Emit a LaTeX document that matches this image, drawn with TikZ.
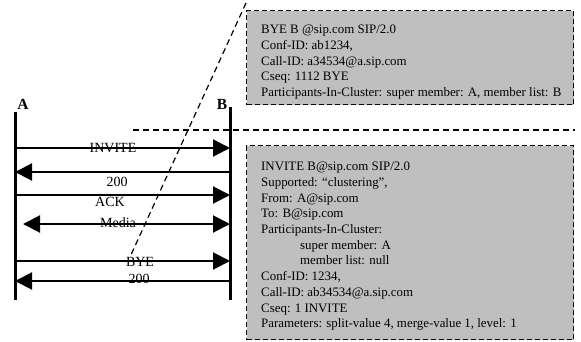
\documentclass[tikz,border=0pt]{standalone}
\usepackage{fontspec}
\setmainfont{Liberation Serif}
\usetikzlibrary{arrows.meta}
\tikzset{
    lifeline/.style={line width=3pt},
    msg/.style={line width=2pt, -{Triangle[length=17pt, width=17pt]}},
    lbl/.style={inner sep=0pt, font=\fontsize{14}{16}\selectfont},
    party/.style={inner sep=0pt, font=\fontsize{15.5}{17}\selectfont\bfseries},
    sepline/.style={line width=1.2pt, dash pattern=on 6pt off 4pt},
    msgbox/.style={draw, fill=black!25, line width=1.4pt, dash pattern=on 5pt off 3pt, anchor=north west, inner sep=0pt},
    msgtext/.style={anchor=north west, align=left, inner sep=0pt, font=\fontsize{12.9}{15.7}\selectfont},
}

\begin{document}
\begin{tikzpicture}[x=1pt, y=-1pt]
    \useasboundingbox (0,0) rectangle (581,341);
    % the two parties
    \node[party] (A) at (23,104) {A};
    \node[party] (B) at (222,104) {B};
    \coordinate (aTop) at (15,112);
    \coordinate (aBot) at (15,300);
    \coordinate (bTop) at (230,107);
    \coordinate (bBot) at (230,300);
    \draw[lifeline] (aTop) -- (aBot);
    \draw[lifeline] (bTop) -- (bBot);

    % message rows
    \foreach \n/\y in {invite/148, okA/172, ack/195, media/224, bye/261, okB/281} {
        \coordinate (a-\n) at (15,\y);
        \coordinate (b-\n) at (230,\y);
    }
    \coordinate (m-start) at (23,224);
    \draw[msg] (a-invite) -- (b-invite);
    \draw[msg] (b-okA) -- (a-okA);
    \draw[msg] (a-ack) -- (b-ack);
    \draw[msg, {Triangle[length=17pt, width=17pt]}-{Triangle[length=17pt, width=17pt]}] (m-start) -- (b-media);
    \draw[msg] (a-bye) -- (b-bye);
    \draw[msg] (b-okB) -- (a-okB);

    \node[lbl] (inviteLbl) at (113,148) {INVITE};
    \node[lbl] (okALbl) at (117,182) {200};
    \node[lbl] (ackLbl) at (110,202) {ACK};
    \node[lbl] (mediaLbl) at (118,223) {Media};
    \node[lbl] (byeLbl) at (140,262) {BYE};
    \node[lbl] (okBLbl) at (139,279) {200};

    % message contents
    \node[msgbox, minimum width=327pt, minimum height=94pt] (byeBox) at (246,10) {};
    \node[msgtext] (byeText) at (261,25) {BYE B @sip.com SIP/2.0\\
        Conf-ID: ab1234,\\
        Call-ID: a34534@a.sip.com\\
        Cseq: 1112 BYE\\
        Participants-In-Cluster: super member: A, member list: B};
    \node[msgbox, minimum width=327pt, minimum height=194pt] (inviteBox) at (246,145) {};
    \node[msgtext] (inviteText) at (261,162) {INVITE B@sip.com SIP/2.0\\
        Supported: ``clustering'',\\
        From: A@sip.com\\
        To: B@sip.com\\
        Participants-In-Cluster:\\
        \hspace{39pt}super member: A\\
        \hspace{39pt}member list: null\\
        Conf-ID: 1234,\\
        Call-ID: ab34534@a.sip.com\\
        Cseq: 1 INVITE\\
        Parameters: split-value 4, merge-value 1, level: 1};

    % separators
    \coordinate (sepL) at (133,130);
    \coordinate (sepR) at (575,130);
    \coordinate (diagTop) at (246,3);
    \coordinate (diagBot) at (130,257);
    \draw[sepline] (sepL) -- (sepR);
    \draw[sepline] (diagTop) -- (diagBot);
\end{tikzpicture}
\end{document}
